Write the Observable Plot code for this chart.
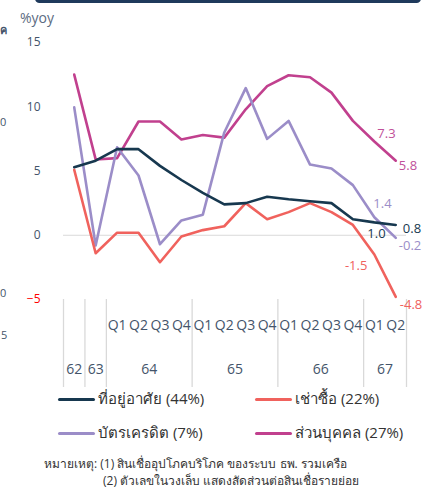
<!DOCTYPE html>
<html>
<head>
<meta charset="utf-8">
<script src="https://cdn.jsdelivr.net/npm/d3@7"></script>
<script src="https://cdn.jsdelivr.net/npm/@observablehq/plot@0.6"></script>
<style>
  html, body { margin: 0; padding: 0; background: #fff; }
  body { width: 423px; height: 491px; position: relative; overflow: hidden; font-family: "Open Sans", "Noto Sans", "DejaVu Sans", sans-serif; }
  #chart { position: absolute; left: 0; top: 0; }
  .abs { position: absolute; white-space: nowrap; }
  .topbar { left: 35px; top: -6px; width: 386px; height: 9px; background: #1f3a5c; border-radius: 6px; }
  .yunit { left: 20px; top: 8px; font-size: 14px; color: #5b6b82; }
  .frag { font-size: 11px; color: #44546a; }
  .leg { font-size: 15px; color: #333; display: flex; align-items: center; }
  .sw { width: 37px; height: 3px; border-radius: 2px; margin-right: 3px; }
  .note { font-size: 12px; color: #333; }
</style>
</head>
<body>
<div class="abs topbar"></div>
<div class="abs frag" style="left:0px; top:21px; font-weight:bold;">ค</div>
<div class="abs frag" style="left:0px; top:114px;">0</div>
<div class="abs frag" style="left:0px; top:285px;">0</div>
<div class="abs frag" style="left:1px; top:327px;">5</div>
<div class="abs yunit">%yoy</div>
<div id="chart"></div>
<div id="legend"></div>
<div id="notes"></div>
<script>
// ---- data ----
const periodLabels = ["62","63","Q1","Q2","Q3","Q4","Q1","Q2","Q3","Q4","Q1","Q2","Q3","Q4","Q1","Q2"];
const years = ["62","63","64","65","66","67"];
const yearSpans = [1, 1, 4, 4, 4, 2];
const housing      = [5.3, 5.8, 6.7, 6.7, 5.4, 4.3, 3.3, 2.4, 2.5, 3.0, 2.8, 2.65, 2.5, 1.25, 1.0, 0.8];
const hirePurchase = [5.1, -1.4, 0.2, 0.2, -2.1, -0.1, 0.4, 0.7, 2.5, 1.25, 1.8, 2.5, 1.8, 0.8, -1.5, -4.8];
const creditCard   = [9.95, -0.8, 6.85, 4.65, -0.7, 1.15, 1.6, 8.0, 11.45, 7.5, 8.9, 5.5, 5.2, 3.9, 1.4, -0.2];
const personal     = [12.5, 5.9, 6.0, 8.85, 8.85, 7.45, 7.8, 7.6, 9.8, 11.6, 12.45, 12.3, 11.1, 8.9, 7.3, 5.8];
const seriesNames = ["ที่อยู่อาศัย (44%)", "เช่าซื้อ (22%)", "บัตรเครดิต (7%)", "ส่วนบุคคล (27%)"];
const yTicks = [0, 5, 10, 15];
const yNegTicks = [-5];
const noteLines = ["หมายเหตุ: (1) สินเชื่ออุปโภคบริโภค ของระบบ ธพ. รวมเครือ", "(2) ตัวเลขในวงเล็บ แสดงสัดส่วนต่อสินเชื่อรายย่อย"];

// ---- derived ----
const colors = {housing: "#17384f", hire: "#f0625d", card: "#9b8dc8", personal: "#c1408e"};
const bounds = [-0.5];
yearSpans.forEach(s => bounds.push(bounds[bounds.length - 1] + s));
const yearCenters = years.map((y, i) => ({label: y, x: (bounds[i] + bounds[i + 1]) / 2}));
const quarters = periodLabels.map((l, i) => ({label: l, x: i})).filter(d => d.label.startsWith("Q"));
const last = housing.length - 1;
const pt = (arr, i) => [{x: i, y: arr[i]}];

const font = "'Open Sans', 'Noto Sans', sans-serif";
const chart = Plot.plot({
  width: 423,
  height: 392,
  marginLeft: 63,
  marginRight: 17,
  marginTop: 42,
  marginBottom: 93,
  style: {fontFamily: font, background: "transparent"},
  x: {type: "linear", domain: [-0.5, 15.5], axis: null},
  y: {domain: [-5, 15], axis: null},
  marks: [
    Plot.ruleY([0], {stroke: "#d9d9d9", strokeWidth: 1.2}),
    Plot.axisY(yTicks, {tickSize: 0, tickPadding: 23, color: "#44546a", fontSize: 12, label: null}),
    Plot.axisY(yNegTicks, {tickSize: 0, tickPadding: 23, color: "#ff0000", fontSize: 12, label: null}),
    Plot.axisX(bounds, {tickSize: 88, tickFormat: () => "", stroke: "#d9d9d9", strokeWidth: 1.3, label: null}),
    Plot.text(quarters, {x: "x", text: "label", frameAnchor: "bottom", dy: 30, fill: "#44546a", fontSize: 14}),
    Plot.text(yearCenters, {x: "x", text: "label", frameAnchor: "bottom", dy: 74, fill: "#44546a", fontSize: 14}),
    Plot.lineY(personal, {x: (d, i) => i, y: d => d, stroke: colors.personal, strokeWidth: 2.6}),
    Plot.lineY(creditCard, {x: (d, i) => i, y: d => d, stroke: colors.card, strokeWidth: 2.6}),
    Plot.lineY(hirePurchase, {x: (d, i) => i, y: d => d, stroke: colors.hire, strokeWidth: 2.6}),
    Plot.lineY(housing, {x: (d, i) => i, y: d => d, stroke: colors.housing, strokeWidth: 2.6}),
    // value labels
    Plot.text(pt(personal, last - 1), {x: "x", y: "y", text: d => d.y.toFixed(1), textAnchor: "start", dx: 3, dy: -8, fill: "#c0509a", fontSize: 13}),
    Plot.text(pt(personal, last), {x: "x", y: "y", text: d => d.y.toFixed(1), textAnchor: "start", dx: 3, dy: 5, fill: "#c0509a", fontSize: 13}),
    Plot.text(pt(creditCard, last - 1), {x: "x", y: "y", text: d => d.y.toFixed(1), textAnchor: "start", dx: -1, dy: -13, fill: colors.card, fontSize: 13}),
    Plot.text(pt(creditCard, last), {x: "x", y: "y", text: d => d.y.toFixed(1), textAnchor: "start", dx: 3, dy: 8, fill: colors.card, fontSize: 13}),
    Plot.text(pt(housing, last - 1), {x: "x", y: "y", text: d => d.y.toFixed(1), textAnchor: "start", dx: -7, dy: 11, fill: colors.housing, fontSize: 13}),
    Plot.text(pt(housing, last), {x: "x", y: "y", text: d => d.y.toFixed(1), textAnchor: "start", dx: 7, dy: 4, fill: colors.housing, fontSize: 13}),
    Plot.text(pt(hirePurchase, last - 1), {x: "x", y: "y", text: d => d.y.toFixed(1), textAnchor: "end", dx: -7, dy: 11, fill: colors.hire, fontSize: 13}),
    Plot.text(pt(hirePurchase, last), {x: "x", y: "y", text: d => d.y.toFixed(1), textAnchor: "start", dx: 4, dy: 8, fill: colors.hire, fontSize: 13})
  ]
});
document.getElementById("chart").appendChild(chart);

// legend
const legendItems = [
  {name: seriesNames[0], color: colors.housing, left: 58, top: 390},
  {name: seriesNames[1], color: colors.hire, left: 255, top: 390},
  {name: seriesNames[2], color: colors.card, left: 58, top: 424},
  {name: seriesNames[3], color: colors.personal, left: 255, top: 424}
];
const legend = document.getElementById("legend");
legendItems.forEach(it => {
  const el = document.createElement("div");
  el.className = "abs leg";
  el.style.left = it.left + "px";
  el.style.top = it.top + "px";
  el.style.height = "18px";
  el.innerHTML = `<span class="sw" style="background:${it.color}"></span><span>${it.name}</span>`;
  legend.appendChild(el);
});
const notes = document.getElementById("notes");
[[44, 454], [103, 471]].forEach(([l, t], i) => {
  const el = document.createElement("div");
  el.className = "abs note";
  el.style.left = l + "px";
  el.style.top = t + "px";
  el.textContent = noteLines[i];
  notes.appendChild(el);
});
</script>
</body>
</html>
